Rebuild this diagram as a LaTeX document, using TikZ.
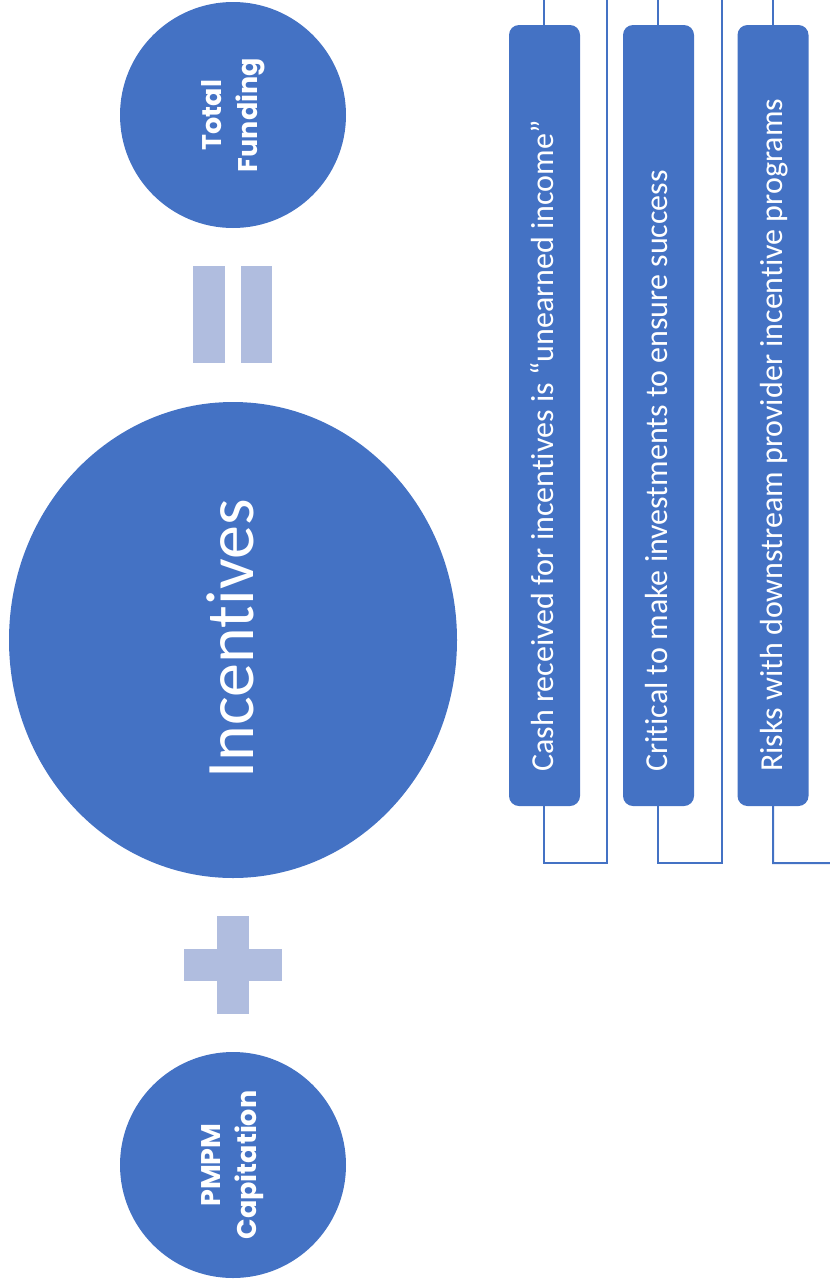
\documentclass[tikz,border=0pt]{standalone}
\usepackage{fontspec}
\setmainfont{Carlito}[Ligatures=NoCommon]
\newfontfamily\headfont{Poppins}
\usetikzlibrary{shapes.geometric}
\definecolor{mainblue}{HTML}{4472C4}
\definecolor{softblue}{HTML}{B0BDDF}
% keep "t" and "i" as separate glyphs
\newcommand\tsep{t\kern0pt i}
\begin{document}
\begin{tikzpicture}[x=1pt,y=1pt,
  bigdisc/.style={circle,fill=mainblue,draw=none,minimum size=226pt,inner sep=0pt},
  ovaldisc/.style={ellipse,fill=mainblue,draw=none,minimum width=476pt,minimum height=448pt,inner sep=0pt,rotate=90},
  headtext/.style={text=white,font=\headfont\bfseries\fontsize{27}{36}\selectfont,align=center,rotate=90,inner sep=0pt},
  listbox/.style={rectangle,rounded corners=10pt,fill=mainblue,draw=none,minimum width=781pt,minimum height=71pt,inner sep=0pt,rotate=90},
  listtext/.style={text=white,font=\fontsize{32}{36}\selectfont,rotate=90,inner sep=0pt,anchor=base west},
  bracket/.style={draw=mainblue,line width=2pt},
  opbar/.style={rectangle,fill=softblue,draw=none,inner sep=0pt}]
\useasboundingbox (0,0) rectangle (830,-1283);

% three discs
\node[bigdisc] (total) at (233,-115) {};
\node[headtext] (totaltxt) at (233,-115) {Total\\Funding};
\node[ovaldisc] (incent) at (233,-640) {};
\node[text=white,font=\fontsize{68}{80}\selectfont,rotate=90,inner sep=0pt,anchor=base] (incenttxt) at (253,-639) {Incen\tsep ves};
\node[bigdisc] (pmpm) at (233,-1165) {};
\node[headtext] (pmpmtxt) at (233,-1165) {PMPM\\Capitation};

% equals sign
\node[opbar,minimum width=32pt,minimum height=97pt] (eqa) at (209,-314.5) {};
\node[opbar,minimum width=31pt,minimum height=97pt] (eqb) at (256.5,-314.5) {};

% plus sign
\node[opbar,minimum width=32pt,minimum height=98pt] (plusv) at (233,-965) {};
\node[opbar,minimum width=98pt,minimum height=32pt] (plush) at (233,-965) {};

% list boxes
\node[listbox] (boxa) at (544.5,-415.5) {};
\node[listbox] (boxb) at (658.5,-415.5) {};
\node[listbox] (boxc) at (773,-415.5) {};
\node[listtext] (txta) at (553,-772) {Cash received for incen\tsep ves is “unearned income”};
\node[listtext] (txtb) at (667,-772) {Cri\tsep cal to make investments to ensure success};
\node[listtext] (txtc) at (782,-772) {Risks with downstream provider incen\tsep ve programs};

% bracket connectors
\coordinate (topa) at (544,0);
\coordinate (topb) at (658,0);
\coordinate (topc) at (773,0);
\coordinate (runa) at (607,0);
\coordinate (runb) at (722,0);
\coordinate (edge) at (830,-863);
\draw[bracket] (topa) -- (boxa.east -| topa);
\draw[bracket] (topb) -- (boxb.east -| topb);
\draw[bracket] (topc) -- (boxc.east -| topc);
\draw[bracket] (boxa.west -| topa) -- ++(0,-57) -| (runa);
\draw[bracket] (boxb.west -| topb) -- ++(0,-57) -| (runb);
\draw[bracket] (boxc.west -| topc) -- ++(0,-57) -- (edge);
\end{tikzpicture}
\end{document}
